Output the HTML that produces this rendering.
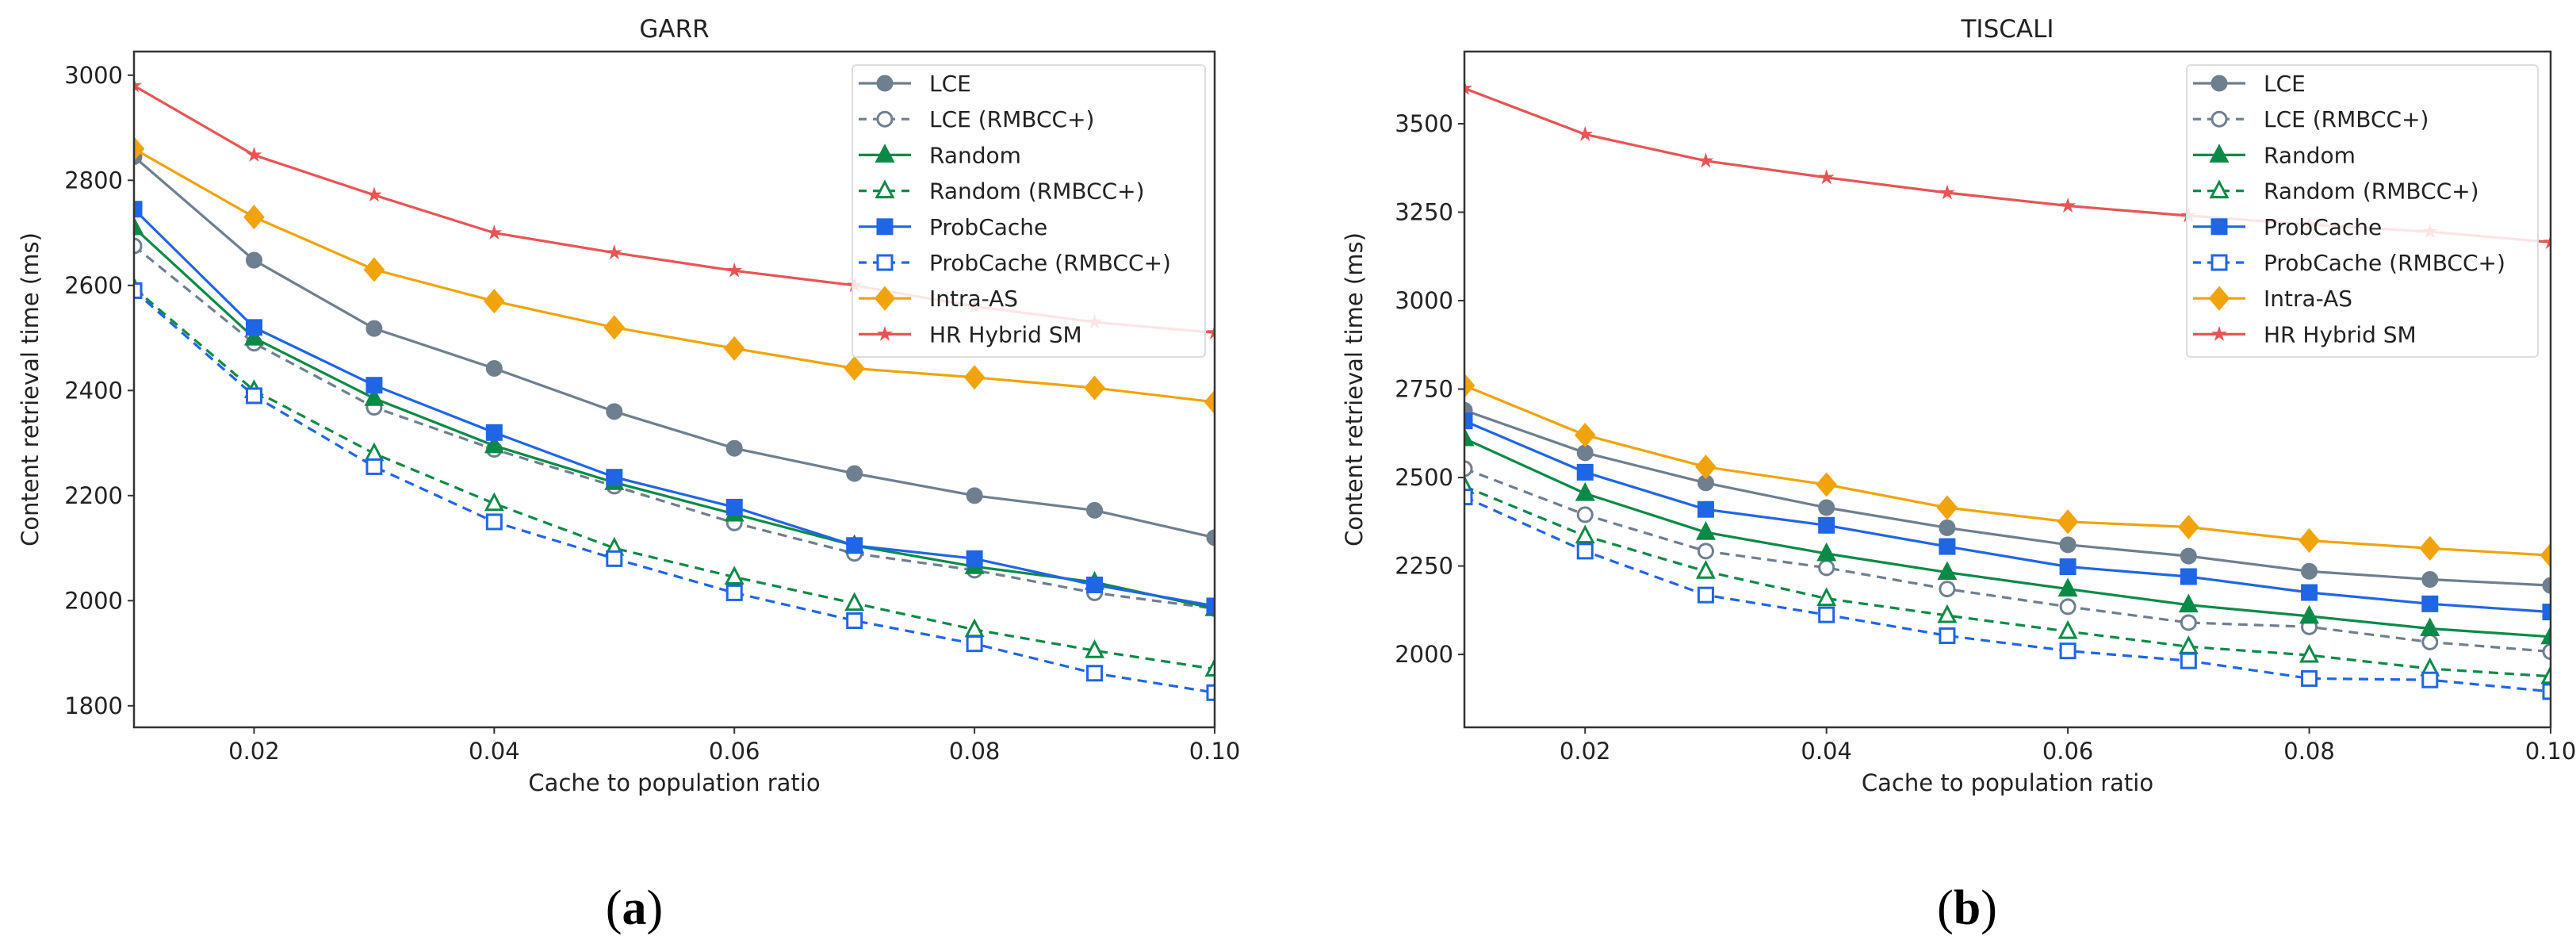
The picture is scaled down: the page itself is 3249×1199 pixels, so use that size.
<!DOCTYPE html>
<html><head><meta charset="utf-8">
<style>
html,body{margin:0;padding:0;background:#fff;}
svg{display:block;font-family:"DejaVu Sans","Liberation Sans",sans-serif;}
</style></head>
<body>
<svg id="fig" width="3249" height="1199" viewBox="0 0 3249 1199" xmlns="http://www.w3.org/2000/svg"></svg>
<script>
const xValues = [0.01,0.02,0.03,0.04,0.05,0.06,0.07,0.08,0.09,0.10];
const xTicks = [0.02,0.04,0.06,0.08,0.10];
const xTickLabels = ["0.02","0.04","0.06","0.08","0.10"];
const seriesNames = ["LCE","LCE (RMBCC+)","Random","Random (RMBCC+)","ProbCache","ProbCache (RMBCC+)","Intra-AS","HR Hybrid SM"];
// GARR
const garrTicks = [1800,2000,2200,2400,2600,2800,3000];
const garrLCE = [2845,2648,2518,2442,2360,2290,2242,2200,2172,2120];
const garrLCER = [2675,2490,2368,2288,2218,2148,2090,2058,2015,1985];
const garrRandom = [2710,2500,2385,2295,2225,2165,2105,2065,2035,1985];
const garrRandomR = [2595,2400,2280,2185,2100,2045,1995,1945,1905,1870];
const garrProb = [2745,2520,2410,2320,2235,2178,2105,2080,2030,1990];
const garrProbR = [2590,2390,2255,2150,2080,2015,1962,1918,1862,1825];
const garrIntra = [2860,2730,2630,2570,2520,2480,2442,2425,2405,2378];
const garrHR = [2980,2848,2772,2700,2662,2628,2600,2560,2530,2510];
// TISCALI
const tiscTicks = [2000,2250,2500,2750,3000,3250,3500];
const tiscLCE = [2690,2570,2485,2415,2358,2310,2278,2235,2212,2195];
const tiscLCER = [2525,2395,2292,2245,2185,2135,2090,2078,2035,2008];
const tiscRandom = [2610,2455,2345,2285,2232,2185,2140,2108,2073,2050];
const tiscRandomR = [2475,2335,2235,2158,2110,2065,2022,1998,1960,1938];
const tiscProb = [2660,2515,2410,2365,2305,2248,2220,2175,2143,2120];
const tiscProbR = [2445,2292,2168,2112,2053,2010,1982,1932,1928,1895];
const tiscIntra = [2760,2620,2530,2480,2415,2375,2360,2322,2300,2280];
const tiscHR = [3600,3470,3395,3348,3305,3268,3240,3215,3195,3165];

const NS="http://www.w3.org/2000/svg";
const svg=document.getElementById('fig');
function mk(tag,attrs,parent){const e=document.createElementNS(NS,tag);for(const k in attrs)e.setAttribute(k,attrs[k]);(parent||svg).appendChild(e);return e;}

const styles=[
 {c:"#6e7f8f",m:"circle",fill:true,dash:null},
 {c:"#6e7f8f",m:"circle",fill:false,dash:"12,8"},
 {c:"#0b8a47",m:"tri",fill:true,dash:null},
 {c:"#0b8a47",m:"tri",fill:false,dash:"12,8"},
 {c:"#1f66e5",m:"square",fill:true,dash:null},
 {c:"#1f66e5",m:"square",fill:false,dash:"12,8"},
 {c:"#f0a30a",m:"diamond",fill:true,dash:null},
 {c:"#e85454",m:"star",fill:true,dash:null}
];

function marker(g,type,x,y,st){
  const f=st.fill?st.c:"#fff";
  let e;
  if(type==="circle") e=mk('circle',{cx:x,cy:y,r:9,fill:f,stroke:st.c,'stroke-width':3},g);
  else if(type==="square") e=mk('rect',{x:x-9,y:y-9,width:18,height:18,fill:f,stroke:st.c,'stroke-width':3},g);
  else if(type==="tri") e=mk('polygon',{points:`${x},${y-11} ${x+10},${y+8} ${x-10},${y+8}`,fill:f,stroke:st.c,'stroke-width':3},g);
  else if(type==="diamond") e=mk('polygon',{points:`${x},${y-14} ${x+12},${y} ${x},${y+14} ${x-12},${y}`,fill:f,stroke:st.c,'stroke-width':2},g);
  else { let p=[];for(let i=0;i<10;i++){const r=i%2?3:8;const a=-Math.PI/2+i*Math.PI/5;p.push((x+r*Math.cos(a)).toFixed(1)+","+(y+r*Math.sin(a)).toFixed(1));}
    e=mk('polygon',{points:p.join(' '),fill:f,stroke:st.c,'stroke-width':1.5},g);}
  
  
}

function chart(opt){
  const {L,R,T,B,ymin,ymax,ticks,series,title,label,id}=opt;
  const g=mk('g',{});
  
  
  const sx=v=>L+(v-0.01)/(0.09)*(R-L);
  const sy=v=>B-(v-ymin)/(ymax-ymin)*(B-T);
  const clip=mk('clipPath',{id:'clip-'+id},g);mk('rect',{x:L,y:T,width:R-L,height:B-T},clip);
  // series
  const sg=mk('g',{'clip-path':`url(#clip-${id})`},g);
  series.forEach((vals,si)=>{
    const st=styles[si];
    const pts=vals.map((v,i)=>sx(xValues[i]).toFixed(1)+","+sy(v).toFixed(1)).join(' ');
    const pl=mk('polyline',{points:pts,fill:'none',stroke:st.c,'stroke-width':3.2,'stroke-dasharray':st.dash||'none'},sg);
    
    
    vals.forEach((v,i)=>marker(sg,st.m,sx(xValues[i]),sy(v),st));
  });
  // axes frame
  const fr=mk('rect',{x:L,y:T,width:R-L,height:B-T,fill:'none',stroke:'#333','stroke-width':2.5},g);
  
  
  ticks.forEach(t=>{const y=sy(t);mk('line',{x1:L-8,x2:L,y1:y,y2:y,stroke:'#333','stroke-width':2},g);
    const tx=mk('text',{x:L-14,y:y+10,'text-anchor':'end','font-size':29,fill:'#222'},g);tx.textContent=t;
    
    });
  xTicks.forEach((t,i)=>{const x=sx(t);mk('line',{x1:x,x2:x,y1:B,y2:B+8,stroke:'#333','stroke-width':2},g);
    const tx=mk('text',{x:x,y:B+40,'text-anchor':'middle','font-size':29,fill:'#222'},g);tx.textContent=xTickLabels[i];
    
    });
  const tt=mk('text',{x:(L+R)/2,y:T-18,'text-anchor':'middle','font-size':31,fill:'#222'},g);tt.textContent=title;
  
  
  const xl=mk('text',{x:(L+R)/2,y:B+80,'text-anchor':'middle','font-size':29,fill:'#222'},g);xl.textContent="Cache to population ratio";
  
  
  const yx=opt.ylx, yy=(T+B)/2;
  const yl=mk('text',{x:yx,y:yy,'text-anchor':'middle','font-size':29,fill:'#222',transform:`rotate(-90 ${yx} ${yy})`},g);yl.textContent="Content retrieval time (ms)";
  
  
  // legend
  const lg=mk('g',{},g);
  
  
  const lx=opt.legX, ly=82;
  mk('rect',{x:lx,y:ly,width:opt.legW,height:368,rx:5,fill:'#fff','fill-opacity':0.85,stroke:'#ddd','stroke-width':2},lg);
  seriesNames.forEach((n,i)=>{
    const y=ly+23+i*45.2; const st=styles[i];
    mk('line',{x1:lx+8,x2:lx+74,y1:y,y2:y,stroke:st.c,'stroke-width':3.2,'stroke-dasharray':st.dash?'10,8':'none'},lg);
    marker(lg,st.m,lx+41,y,st);
    const t=mk('text',{x:lx+97,y:y+10,'font-size':28,fill:'#222'},lg);t.textContent=n;
    
    
  });
  const cap=mk('text',{x:opt.capX,y:1165,'text-anchor':'middle','font-size':62,'font-family':'"Liberation Serif",serif',fill:'#000'},g);
  cap.innerHTML='(<tspan font-weight="bold">'+opt.cap+'</tspan>)';
  
  
}

chart({id:'garr',L:169,R:1532,T:65,B:917,ymin:1759,ymax:3045,ticks:garrTicks,title:"GARR",ylx:48,
  series:[garrLCE,garrLCER,garrRandom,garrRandomR,garrProb,garrProbR,garrIntra,garrHR],legX:1075,legW:445,capX:800,cap:'a'});
chart({id:'tiscali',L:1847,R:3217,T:65,B:917,ymin:1794,ymax:3704,ticks:tiscTicks,title:"TISCALI",ylx:1718,
  series:[tiscLCE,tiscLCER,tiscRandom,tiscRandomR,tiscProb,tiscProbR,tiscIntra,tiscHR],legX:2758,legW:443,capX:2481,cap:'b'});
</script>
</body></html>
